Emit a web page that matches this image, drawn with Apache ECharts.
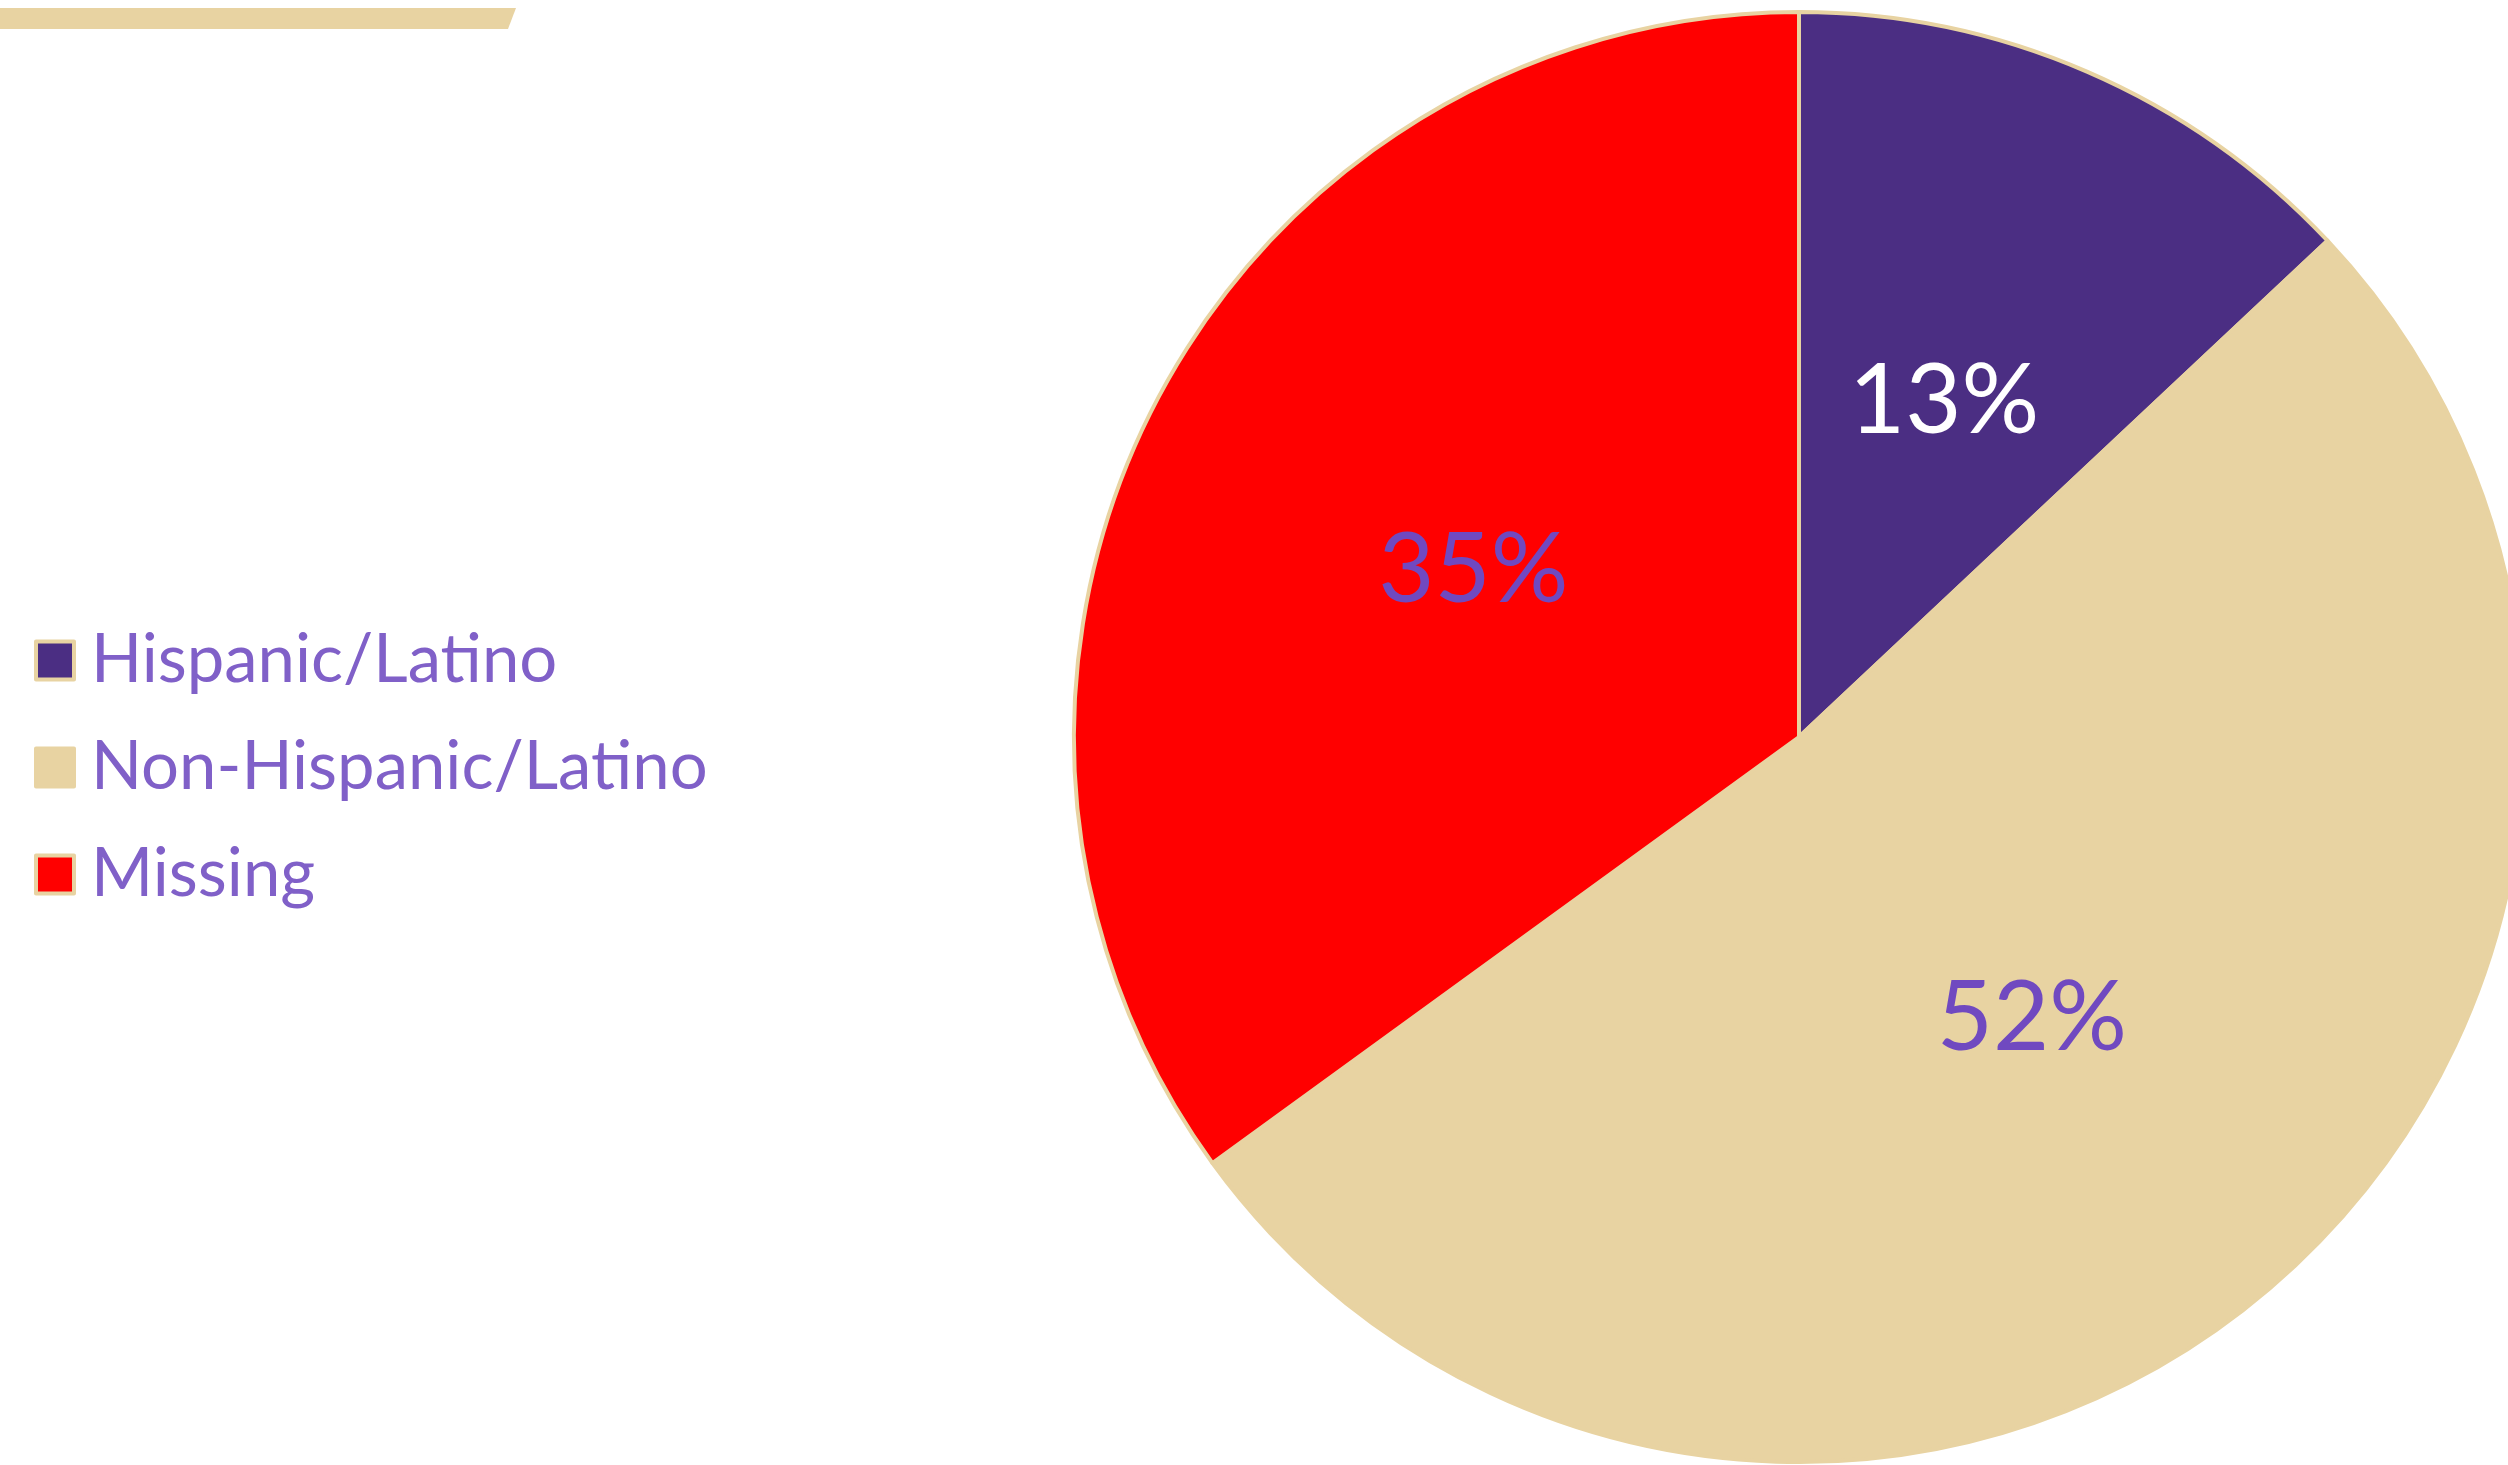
<!DOCTYPE html>
<html>
<head>
<meta charset="utf-8">
<script src="https://cdn.jsdelivr.net/npm/echarts@6/dist/echarts.min.js"></script>
<style>
  html, body { margin: 0; padding: 0; background: #ffffff; }
  #chart { width: 2508px; height: 1465px; }
</style>
</head>
<body>
<div id="chart"></div>
<script>
// Ethnicity breakdown (percent of respondents)
const categories = ['Hispanic/Latino', 'Non-Hispanic/Latino', 'Missing'];
const shares = [13, 52, 35];
const sliceColors = ['#4B2E83', '#E8D3A2', '#FF0000'];
const labelColors = ['#FFFFFF', '#7049C0', '#7049C0'];

const FONT = 'Lato, "Open Sans", sans-serif';
const GOLD = '#E8D3A2';

const chart = echarts.init(document.getElementById('chart'));

chart.setOption({
  backgroundColor: '#ffffff',
  animation: false,
  graphic: [{
    type: 'polygon',
    shape: { points: [[0, 8], [516, 8], [508, 29], [0, 29]] },
    style: { fill: GOLD }
  }],
  legend: {
    orient: 'vertical',
    left: 29,
    top: 622,
    icon: 'rect',
    itemWidth: 38,
    itemHeight: 38,
    itemGap: 40,
    itemStyle: { borderColor: GOLD, borderWidth: 4 },
    textStyle: {
      fontFamily: FONT,
      fontSize: 67,
      color: '#8060C8',
      padding: [0, 0, 0, 12]
    },
    data: categories
  },
  series: [{
    type: 'pie',
    center: [1799, 737],
    radius: [0, 725],
    startAngle: 90,
    clockwise: true,
    avoidLabelOverlap: false,
    itemStyle: { borderColor: GOLD, borderWidth: 4 },
    label: {
      show: true,
      position: 'inside',
      fontFamily: FONT,
      fontSize: 97,
      padding: [12, 0, 0, 0],
      formatter: p => p.value + '%'
    },
    labelLine: { show: false },
    emphasis: { disabled: true },
    data: categories.map((name, i) => ({
      name,
      value: shares[i],
      itemStyle: { color: sliceColors[i] },
      label: { color: labelColors[i] }
    }))
  }]
});
</script>
</body>
</html>
